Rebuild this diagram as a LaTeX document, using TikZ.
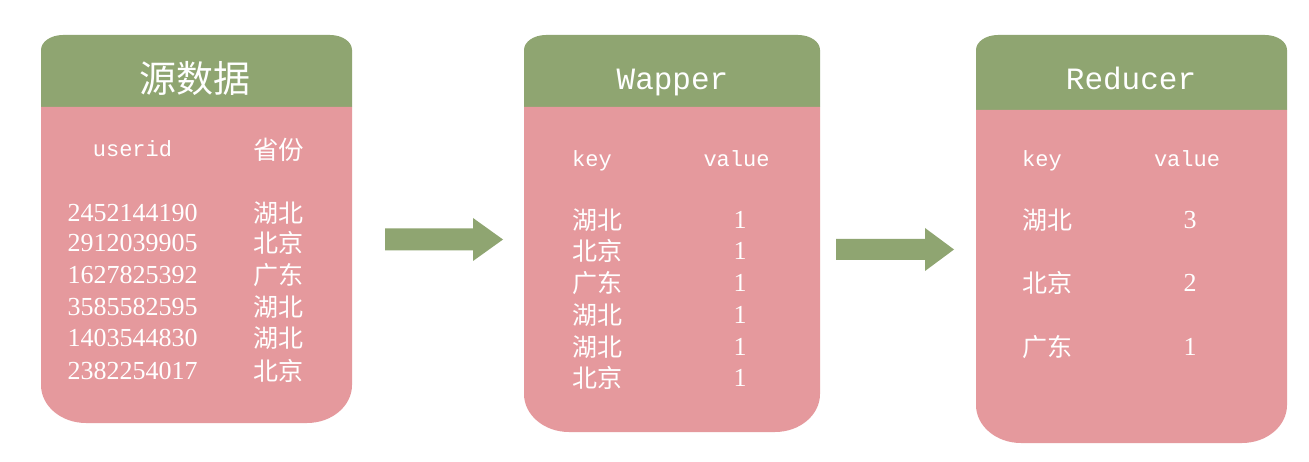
\documentclass[tikz,border=0pt]{standalone}
\usepackage{fontspec}
\setmainfont{Liberation Serif}
\setmonofont{Liberation Mono}
\newfontfamily\cjk{Noto Sans CJK SC}
\definecolor{hdr}{RGB}{143,165,113}
\definecolor{bdy}{RGB}{229,153,157}
\newcommand\drawcard[4]{%
  \fill[hdr] (#1,#3) -- (#1,411) arc[start angle=180,end angle=90,x radius=22pt,y radius=15pt]
    -- (#2-22,426) arc[start angle=90,end angle=0,x radius=22pt,y radius=15pt] -- (#2,#3) -- cycle;
  \fill[bdy] (#1,#3) -- (#1,#4+38) arc[start angle=180,end angle=270,x radius=45pt,y radius=38pt]
    -- (#2-45,#4) arc[start angle=270,end angle=360,x radius=45pt,y radius=38pt] -- (#2,#3) -- cycle;}
\newcommand\blockarrow[6]{% from x, shaft end x, tip x, center y, shaft half, head half
  \fill[hdr] (#1,#4+#5) -- (#2,#4+#5) -- (#2,#4+#6) -- (#3,#4) -- (#2,#4-#6) -- (#2,#4-#5) -- (#1,#4-#5) -- cycle;}
\begin{document}
\begin{tikzpicture}[x=1pt,y=1pt,
  txt/.style={text=white,inner sep=0pt},
  ttl/.style={txt,font=\cjk\fontsize{37}{40}\selectfont},
  ttlm/.style={txt,anchor=base,font=\ttfamily\fontsize{31}{34}\selectfont},
  colh/.style={txt,anchor=base,font=\ttfamily\fontsize{22}{24}\selectfont},
  colc/.style={txt,font=\cjk\fontsize{25.5}{28}\selectfont},
  num/.style={txt,font=\fontsize{26}{28}\selectfont},
  cn/.style={txt,font=\cjk\fontsize{25}{28}\selectfont}]
\fill[white] (0,0) rectangle (1309,461);
\useasboundingbox (0,0) rectangle (1309,461);
% cards
\drawcard{41}{352}{354}{38}
\drawcard{524}{820}{354}{29}
\drawcard{976}{1287}{351}{18}
% arrows
\coordinate (a1) at (385,221.5);
\coordinate (a2) at (836,211.5);
\blockarrow{385}{473}{503}{221.5}{11}{21.5}
\blockarrow{836}{925}{954}{211.5}{10.5}{21.5}
% card 1
\node[ttl] (t1) at (195,383) {源数据};
\node[colh] (h1a) at (132.5,304) {userid};
\node[colc] (h1b) at (278.5,311) {省份};
\foreach \y/\n/\p [count=\i] in {248/2452144190/湖北,218/2912039905/北京,186/1627825392/广东,154/3585582595/湖北,123/1403544830/湖北,90/2382254017/北京}{
  \node[num] (n\i) at (132.5,\y) {\n};
  \node[cn] (p\i) at (278.5,\y) {\p};
}
% card 2
\node[ttlm] (t2) at (672.5,371) {Wapper};
\node[colh,anchor=base west] (h2a) at (572,294) {key};
\node[colh] (h2b) at (736.5,294) {value};
\foreach \y/\p [count=\i] in {241/湖北,210/北京,178/广东,146/湖北,114/湖北,83/北京}{
  \node[cn,anchor=west] (k\i) at (572,\y) {\p};
  \node[num] (v\i) at (740,\y) {1};
}
% card 3
\node[ttlm] (t3) at (1131,371) {Reducer};
\node[colh,anchor=base west] (h3a) at (1022,294) {key};
\node[colh] (h3b) at (1187,294) {value};
\foreach \y/\p/\v [count=\i] in {241/湖北/3,178/北京/2,114/广东/1}{
  \node[cn,anchor=west] (r\i) at (1022,\y) {\p};
  \node[num] (s\i) at (1190,\y) {\v};
}
\end{tikzpicture}
\end{document}
